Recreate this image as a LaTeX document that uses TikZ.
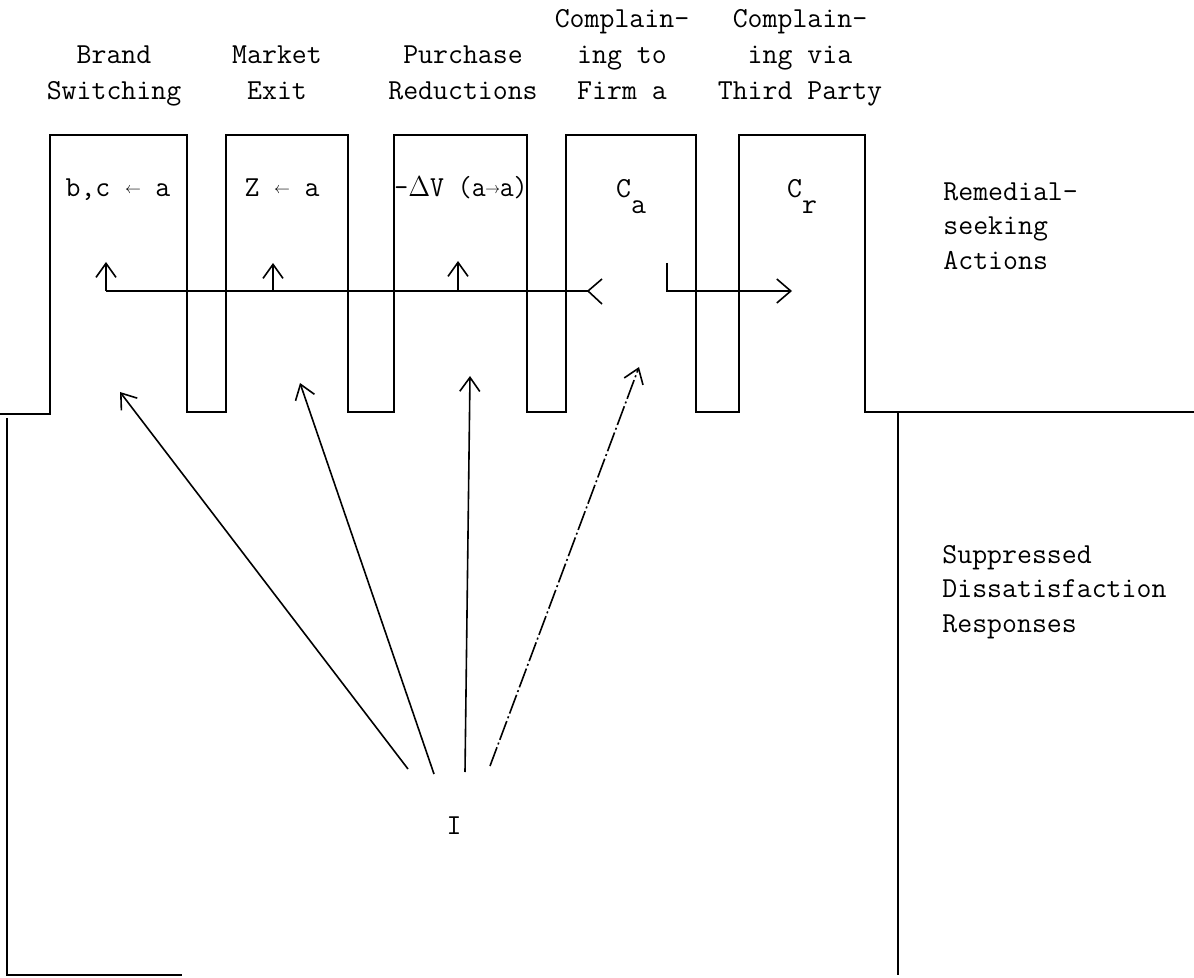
\documentclass[tikz,border=0pt]{standalone}
\usepackage{fontspec}
\usepackage{graphicx}
\usetikzlibrary{arrows.meta}
\newcommand\tcell[1]{\makebox[0.525em]{\raisebox{1.6pt}{\scalebox{0.55}{$#1$}}}}
\begin{document}
\begin{tikzpicture}[x=0.5pt,y=-0.5pt,
  every node/.style={inner sep=0pt, font=\fontsize{14.5}{17.25}\selectfont\ttfamily},
  ln/.style={line width=0.8pt},
  tip/.style={-{Straight Barb[length=7pt,width=10pt,line width=0.8pt]}},
  bigtip/.style={-{Straight Barb[length=7pt,width=12pt,line width=0.8pt]}},
  head/.style={align=center, anchor=south, font=\fontsize{14.5}{18}\selectfont\ttfamily},
  side/.style={align=left, anchor=south west},
  lbl/.style={anchor=base}]
\useasboundingbox (0,0) rectangle (1194,978);

% outline of the columns
\draw[ln] (0,414) -- (50,414) -- (50,135) -- (187,135) -- (187,412) -- (226,412)
  -- (226,135) -- (348,135) -- (348,412) -- (394,412) -- (394,135) -- (527,135)
  -- (527,412) -- (566,412) -- (566,135) -- (696,135) -- (696,412) -- (739,412)
  -- (739,135) -- (865,135) -- (865,412) -- (1194,412);
\draw[ln] (7,418) -- (7,975) -- (182,975);
\draw[ln] (898,412) -- (898,975);

% headers
\node[head] (h1) at (114,110.8) {Brand\\Switching\strut};
\node[head] (h2) at (277,110.8) {Market\\Exit\strut};
\node[head] (h3) at (463,110.8) {Purchase\\Reductions\strut};
\node[head] (h4) at (622,110.8) {Complain-\\ing to\\Firm a\strut};
\node[head] (h5) at (800,110.8) {Complain-\\ing via\\Third Party\strut};

% box labels
\node[lbl] (l1) at (118,197) {b,c \tcell{\leftarrow} a};
\node[lbl] (l2) at (282,197) {Z \tcell{\leftarrow} a};
\node[lbl] (l3) at (461,197) {\scalebox{0.93}[1]{-$\Delta$V (a\tcell{\rightarrow}a)}};
\node[lbl] (l4) at (631,198) {C\raisebox{-8pt}{a}};
\node[lbl] (l5) at (802,198) {C\raisebox{-8pt}{r}};

% side labels
\node[side] (rem) at (943,280) {Remedial-\\seeking\\Actions\strut};
\node[side] (sup) at (942,643) {Suppressed\\Dissatisfaction\\Responses\strut};

% I
\node[lbl] (I) at (454,834) {I};

% horizontal connector system
\coordinate (cal) at (588,291);
\coordinate (j1) at (106,291);
\coordinate (j2) at (273,291);
\coordinate (j3) at (458,291);
\coordinate (u1) at (106,262);
\coordinate (u2) at (273,263);
\coordinate (u3) at (458,261);
\draw[ln] (cal) -- (j1);
\draw[ln] (cal) ++(14,-12) -- (cal) -- ++(14,13);
\draw[ln,tip] (j1) -- (u1);
\draw[ln,tip] (j2) -- (u2);
\draw[ln,tip] (j3) -- (u3);

\coordinate (crt) at (667,263);
\coordinate (crc) at (667,291);
\coordinate (cre) at (792,291);
\draw[ln,bigtip] (crt) -- (crc) -- (cre);

% arrows from I
\coordinate (s1) at (408,769);
\coordinate (s2) at (434,774);
\coordinate (s3) at (465,772);
\coordinate (s4) at (490,766);
\coordinate (d1) at (120,392);
\coordinate (d2) at (300,383);
\coordinate (d3) at (470,376);
\coordinate (d4) at (639,367);
\draw[ln,tip] (s1) -- (d1);
\draw[ln,tip] (s2) -- (d2);
\draw[ln,tip] (s3) -- (d3);
\draw[ln,tip,dash pattern=on 10pt off 1.5pt on 1pt off 1.5pt] (s4) -- (d4);
\end{tikzpicture}
\end{document}
